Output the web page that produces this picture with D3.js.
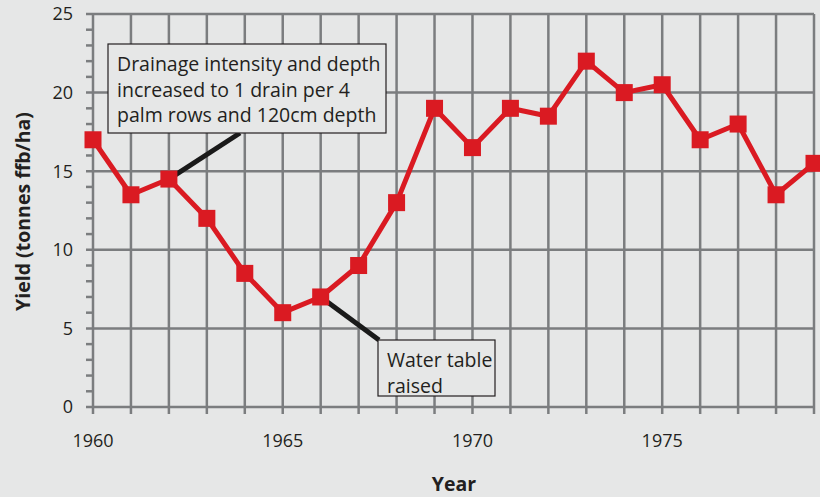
<!DOCTYPE html>
<html>
<head>
<meta charset="utf-8">
<script src="https://cdn.jsdelivr.net/npm/d3@7"></script>
<style>
  body { margin: 0; background: #e6e7e7; }
  svg { display: block; font-family: "Open Sans", sans-serif; }
</style>
</head>
<body>
<div id="chartContainer"></div>
<script>
// yield data
var years = [1960, 1961, 1962, 1963, 1964, 1965, 1966, 1967, 1968, 1969,
             1970, 1971, 1972, 1973, 1974, 1975, 1976, 1977, 1978, 1979];
var yields = [17, 13.5, 14.5, 12, 8.5, 6, 7, 9, 13, 19,
              16.5, 19, 18.5, 22, 20, 20.5, 17, 18, 13.5, 15.5];
var yTicks = [0, 5, 10, 15, 20, 25];
var xTickLabels = [1960, 1965, 1970, 1975];
var notes = [
    { year: 1962, lines: ["Drainage intensity and depth", "increased to 1 drain per 4", "palm rows and 120cm depth"] },
    { year: 1966, lines: ["Water table", "raised"] }
];

var width = 820, height = 497;
var margin = { top: 14, right: 6, bottom: 90, left: 93 };
var gridColor = "#7b7d7f";
var red = "#da1a22";
var textColor = "#231f20";

var svg = d3.select("#chartContainer").append("svg")
    .attr("width", width)
    .attr("height", height);

var x = d3.scaleLinear()
    .domain([1960, 1979])
    .range([margin.left, width - margin.right]);

var y = d3.scaleLinear()
    .domain([0, 25])
    .range([height - margin.bottom, margin.top]);

var g = svg.append("g");

// vertical grid, one per year
g.selectAll(".vgrid")
    .data(d3.range(1960, 1980))
    .enter().append("line")
    .attr("x1", d => x(d)).attr("x2", d => x(d))
    .attr("y1", y(25)).attr("y2", y(0) + 7)
    .attr("stroke", gridColor).attr("stroke-width", 2.5);

// horizontal grid every 5
g.selectAll(".hgrid")
    .data(yTicks)
    .enter().append("line")
    .attr("x1", x(1960) - 7).attr("x2", x(1979))
    .attr("y1", d => y(d)).attr("y2", d => y(d))
    .attr("stroke", gridColor).attr("stroke-width", 2.5);

// minor ticks on y axis
g.selectAll(".minor")
    .data(d3.range(0, 26).filter(d => d % 5 != 0))
    .enter().append("line")
    .attr("x1", x(1960) - 7).attr("x2", x(1960))
    .attr("y1", d => y(d)).attr("y2", d => y(d))
    .attr("stroke", gridColor).attr("stroke-width", 2.5);

// tick labels
g.selectAll(".ylab")
    .data(yTicks)
    .enter().append("text")
    .attr("x", x(1960) - 20)
    .attr("y", d => y(d))
    .attr("dy", "0.35em")
    .attr("text-anchor", "end")
    .attr("font-size", 18)
    .attr("fill", textColor)
    .text(d => d);

g.selectAll(".xlab")
    .data(xTickLabels)
    .enter().append("text")
    .attr("x", d => x(d))
    .attr("y", y(0) + 34)
    .attr("dy", "0.35em")
    .attr("text-anchor", "middle")
    .attr("font-size", 18)
    .attr("fill", textColor)
    .text(d => d);

// axis titles
svg.append("text")
    .attr("x", 454).attr("y", 484)
    .attr("dy", "0.35em")
    .attr("text-anchor", "middle")
    .attr("font-size", 19.5).attr("font-weight", "bold")
    .attr("fill", textColor)
    .text("Year");

svg.append("text")
    .attr("transform", `translate(23, 211.5) rotate(-90)`)
    .attr("dy", "0.35em")
    .attr("text-anchor", "middle")
    .attr("font-size", 19.5).attr("font-weight", "bold")
    .attr("fill", textColor)
    .text("Yield (tonnes ffb/ha)");

var data = years.map((d, i) => ({ year: d, value: yields[i] }));

// annotation boxes + leader lines
var boxes = [
    { x: 108, y: 44, w: 278, h: 89, lx: 240, ly: 133 },
    { x: 378, y: 340, w: 117, h: 56, lx: 379, ly: 340 }
];

notes.forEach(function (n, i) {
    var b = boxes[i];
    var p = data.find(d => d.year == n.year);
    svg.append("line")
        .attr("x1", x(p.year)).attr("y1", y(p.value))
        .attr("x2", b.lx).attr("y2", b.ly)
        .attr("stroke", "#1a1a1a").attr("stroke-width", 5);
    svg.append("rect")
        .attr("x", b.x).attr("y", b.y)
        .attr("width", b.w).attr("height", b.h)
        .attr("fill", "#e6e7e7")
        .attr("stroke", textColor).attr("stroke-width", 1.2);
    svg.append("text")
        .attr("font-size", 19.5)
        .attr("fill", textColor)
        .selectAll("tspan")
        .data(n.lines)
        .enter().append("tspan")
        .attr("x", b.x + 9)
        .attr("y", (d, j) => b.y + 27 + j * 25.5)
        .text(d => d);
});

// the yield line
var line = d3.line()
    .x(d => x(d.year))
    .y(d => y(d.value));

svg.append("path")
    .datum(data)
    .attr("fill", "none")
    .attr("stroke", red)
    .attr("stroke-width", 5)
    .attr("stroke-linejoin", "round")
    .attr("d", line);

svg.selectAll(".pt")
    .data(data)
    .enter().append("rect")
    .attr("x", d => x(d.year) - 8.5)
    .attr("y", d => y(d.value) - 8.5)
    .attr("width", 17).attr("height", 17)
    .attr("fill", red);
</script>
</body>
</html>
